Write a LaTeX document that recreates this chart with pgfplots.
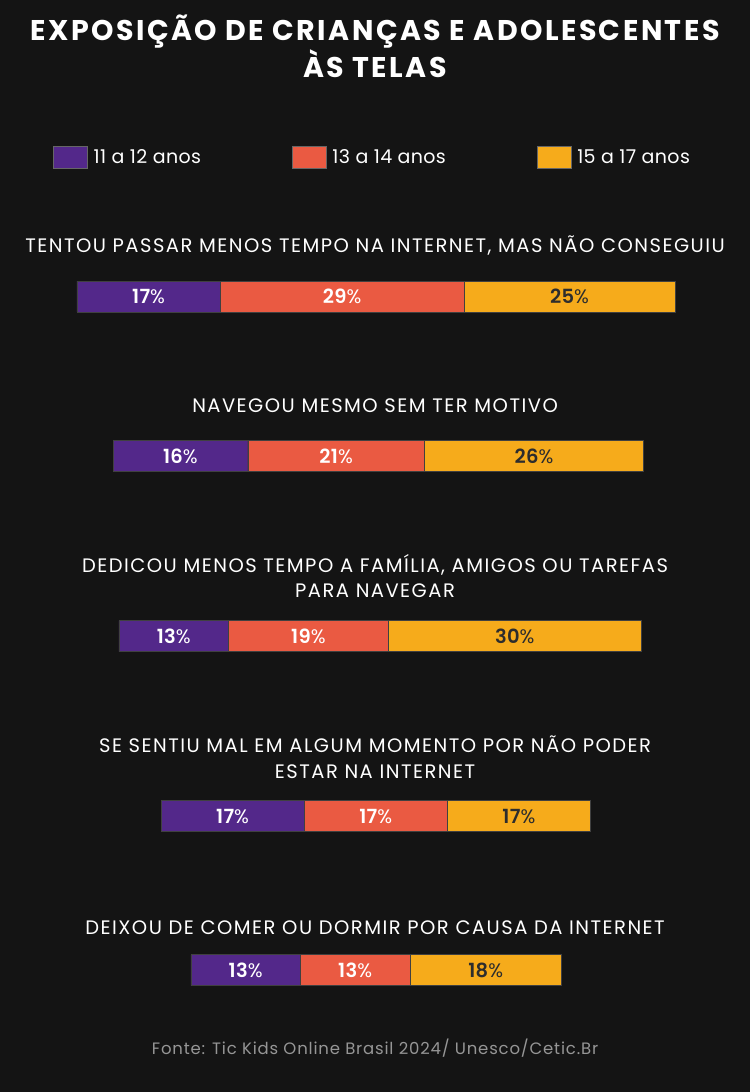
\documentclass[border=0pt]{standalone}
\usepackage{fontspec}
\setmainfont{Poppins}
\newfontfamily\ttlfont[LetterSpace=8.6]{Poppins}
\newfontfamily\catfont[LetterSpace=7.6]{Poppins}
\newfontfamily\legfont[LetterSpace=2]{Poppins}
\newfontfamily\srcfont[LetterSpace=5]{Poppins}
\newfontfamily\valfont[LetterSpace=2]{Poppins SemiBold}
\newfontfamily\pctfont[LetterSpace=2]{Poppins}
\usepackage{pgfplots}
\usepackage{pgfplotstable}
\pgfplotsset{compat=1.18}
\definecolor{bg}{RGB}{20,20,20}
\definecolor{cpurple}{RGB}{83,40,138}
\definecolor{cred}{RGB}{234,90,66}
\definecolor{cyellow}{RGB}{246,171,27}
\definecolor{darktxt}{RGB}{45,45,45}
\definecolor{graytxt}{RGB}{150,150,150}

% y = vertical position of each bar (layout), off = left offset (layout, in % units)
\pgfplotstableread{
y     off   a  b  c
296.5 9.14  17 29 25
456   13.42 16 21 26
636   14.13 13 19 30
816   19.12 17 17 17
970   22.68 13 13 18
}\bars

% centres of the segments for the value labels
\pgfplotstableread{
y     ca    cb    cc    a  b  c
296.5 17.64 40.64 67.64 17 29 25
456   21.42 39.92 63.42 16 21 26
636   20.63 36.63 61.13 13 19 30
816   27.62 44.62 61.62 17 17 17
970   29.18 42.18 57.68 13 13 18
}\labs

\begin{document}
\begin{tikzpicture}
\pgfplotsset{base/.style={width=750bp,height=1092bp,scale only axis,
  xmin=0,xmax=89.07,ymin=0,ymax=1092,y dir=reverse,axis lines=none,clip=false}}
\begin{axis}[base,
  axis background/.style={fill=bg},
  xbar stacked, bar width=31,
  legend style={at={(axis cs:44.25,157)}, anchor=center, draw=none, fill=none,
    text=white, font=\legfont\fontsize{19bp}{22bp}\selectfont, legend columns=3,
    /tikz/every even column/.append style={column sep=89bp}},
  legend image code/.code={\draw[#1,draw=black!60] (0bp,-11bp) rectangle (34bp,11bp);\path (38bp,0bp);}]
\addplot[forget plot, draw=none, fill=none] table[x=off,y=y]{\bars};
\addplot[fill=cpurple, draw=black!75] table[x=a,y=y]{\bars};
\addplot[fill=cred, draw=black!75] table[x=b,y=y]{\bars};
\addplot[fill=cyellow, draw=black!75] table[x=c,y=y]{\bars};
\legend{11 a 12 anos, 13 a 14 anos, 15 a 17 anos}
\end{axis}

\begin{axis}[base]
\addplot[only marks, mark=*, mark size=0pt, point meta=explicit symbolic,
  nodes near coords={\pgfplotspointmeta{\pctfont\%}},
  every node near coord/.style={anchor=center, text=white, font=\valfont\fontsize{19.5bp}{20bp}\selectfont}]
  table[x=ca,y=y,meta=a]{\labs};
\addplot[only marks, mark=*, mark size=0pt, point meta=explicit symbolic,
  nodes near coords={\pgfplotspointmeta{\pctfont\%}},
  every node near coord/.style={anchor=center, text=white, font=\valfont\fontsize{19.5bp}{20bp}\selectfont}]
  table[x=cb,y=y,meta=b]{\labs};
\addplot[only marks, mark=*, mark size=0pt, point meta=explicit symbolic,
  nodes near coords={\pgfplotspointmeta{\pctfont\%}},
  every node near coord/.style={anchor=center, text=darktxt, font=\valfont\fontsize{19.5bp}{20bp}\selectfont}]
  table[x=cc,y=y,meta=c]{\labs};

\tikzset{ttl/.style={anchor=base, text=white, font=\ttlfont\fontsize{28.5bp}{30bp}\selectfont\bfseries},
         cat/.style={anchor=base, text=white, font=\catfont\fontsize{19.5bp}{22bp}\selectfont}}
\node[ttl] at (axis cs:44.54,40) {EXPOSIÇÃO DE CRIANÇAS E ADOLESCENTES};
\node[ttl] at (axis cs:44.54,77) {ÀS TELAS};
\node[cat] at (axis cs:44.54,252) {TENTOU PASSAR MENOS TEMPO NA INTERNET, MAS NÃO CONSEGUIU};
\node[cat] at (axis cs:44.54,412) {NAVEGOU MESMO SEM TER MOTIVO};
\node[cat] at (axis cs:44.54,572) {DEDICOU MENOS TEMPO A FAMÍLIA, AMIGOS OU TAREFAS};
\node[cat] at (axis cs:44.54,597) {PARA NAVEGAR};
\node[cat] at (axis cs:44.54,752) {SE SENTIU MAL EM ALGUM MOMENTO POR NÃO PODER};
\node[cat] at (axis cs:44.54,778) {ESTAR NA INTERNET};
\node[cat] at (axis cs:44.54,934) {DEIXOU DE COMER OU DORMIR POR CAUSA DA INTERNET};
\node[anchor=base, text=graytxt, font=\srcfont\fontsize{16.5bp}{20bp}\selectfont] at (axis cs:44.54,1054) {Fonte: Tic Kids Online Brasil 2024/ Unesco/Cetic.Br};
\end{axis}
\end{tikzpicture}
\end{document}
